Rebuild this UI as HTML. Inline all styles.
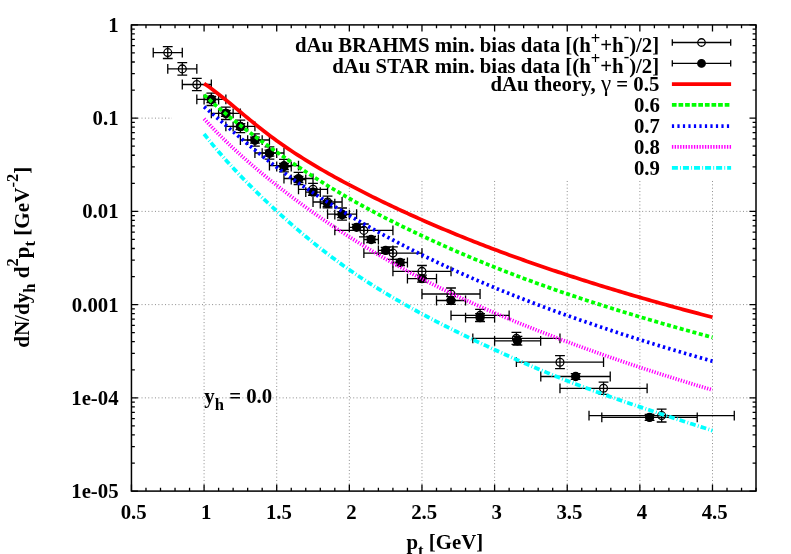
<!DOCTYPE html>
<html>
<head>
<meta charset="utf-8">
<title>dAu spectra</title>
<style>
html,body{margin:0;padding:0;background:#ffffff;}
body{width:791px;height:554px;overflow:hidden;font-family:"Liberation Serif",serif;}
svg{display:block;will-change:transform;}
</style>
</head>
<body>
<svg width="791" height="554" viewBox="0 0 791 554">
<rect x="0" y="0" width="791" height="554" fill="#ffffff"/>
<g stroke="#8c8c8c" stroke-width="1" stroke-dasharray="1 2.36" fill="none">
<path d="M204.08 491.1 V179.5"/>
<path d="M276.71 491.1 V179.5"/>
<path d="M349.34 491.1 V179.5"/>
<path d="M421.97 491.1 V179.5"/>
<path d="M494.6 491.1 V179.5"/>
<path d="M567.23 491.1 V179.5"/>
<path d="M639.86 491.1 V179.5"/>
<path d="M712.49 491.1 V179.5"/>
<path d="M131.45 118.14 H172"/>
<path d="M131.45 211.38 H756"/>
<path d="M131.45 304.62 H756"/>
<path d="M131.45 397.86 H756"/>
</g>
<path d="M131.45 491.1 v-6.5 M131.45 24.9 v6.5 M145.98 491.1 v-3.4 M145.98 24.9 v3.4 M160.5 491.1 v-3.4 M160.5 24.9 v3.4 M175.03 491.1 v-3.4 M175.03 24.9 v3.4 M189.55 491.1 v-3.4 M189.55 24.9 v3.4 M204.08 491.1 v-6.5 M204.08 24.9 v6.5 M218.61 491.1 v-3.4 M218.61 24.9 v3.4 M233.13 491.1 v-3.4 M233.13 24.9 v3.4 M247.66 491.1 v-3.4 M247.66 24.9 v3.4 M262.18 491.1 v-3.4 M262.18 24.9 v3.4 M276.71 491.1 v-6.5 M276.71 24.9 v6.5 M291.24 491.1 v-3.4 M291.24 24.9 v3.4 M305.76 491.1 v-3.4 M305.76 24.9 v3.4 M320.29 491.1 v-3.4 M320.29 24.9 v3.4 M334.81 491.1 v-3.4 M334.81 24.9 v3.4 M349.34 491.1 v-6.5 M349.34 24.9 v6.5 M363.87 491.1 v-3.4 M363.87 24.9 v3.4 M378.39 491.1 v-3.4 M378.39 24.9 v3.4 M392.92 491.1 v-3.4 M392.92 24.9 v3.4 M407.44 491.1 v-3.4 M407.44 24.9 v3.4 M421.97 491.1 v-6.5 M421.97 24.9 v6.5 M436.5 491.1 v-3.4 M436.5 24.9 v3.4 M451.02 491.1 v-3.4 M451.02 24.9 v3.4 M465.55 491.1 v-3.4 M465.55 24.9 v3.4 M480.07 491.1 v-3.4 M480.07 24.9 v3.4 M494.6 491.1 v-6.5 M494.6 24.9 v6.5 M509.13 491.1 v-3.4 M509.13 24.9 v3.4 M523.65 491.1 v-3.4 M523.65 24.9 v3.4 M538.18 491.1 v-3.4 M538.18 24.9 v3.4 M552.7 491.1 v-3.4 M552.7 24.9 v3.4 M567.23 491.1 v-6.5 M567.23 24.9 v6.5 M581.76 491.1 v-3.4 M581.76 24.9 v3.4 M596.28 491.1 v-3.4 M596.28 24.9 v3.4 M610.81 491.1 v-3.4 M610.81 24.9 v3.4 M625.33 491.1 v-3.4 M625.33 24.9 v3.4 M639.86 491.1 v-6.5 M639.86 24.9 v6.5 M654.39 491.1 v-3.4 M654.39 24.9 v3.4 M668.91 491.1 v-3.4 M668.91 24.9 v3.4 M683.44 491.1 v-3.4 M683.44 24.9 v3.4 M697.96 491.1 v-3.4 M697.96 24.9 v3.4 M712.49 491.1 v-6.5 M712.49 24.9 v6.5 M727.02 491.1 v-3.4 M727.02 24.9 v3.4 M741.54 491.1 v-3.4 M741.54 24.9 v3.4 M756.07 491.1 v-3.4 M756.07 24.9 v3.4 M131.45 24.9 h6.5 M756 24.9 h-6.5 M131.45 90.07 h3.4 M756 90.07 h-3.4 M131.45 73.65 h3.4 M756 73.65 h-3.4 M131.45 62 h3.4 M756 62 h-3.4 M131.45 52.97 h3.4 M756 52.97 h-3.4 M131.45 45.59 h3.4 M756 45.59 h-3.4 M131.45 39.34 h3.4 M756 39.34 h-3.4 M131.45 33.94 h3.4 M756 33.94 h-3.4 M131.45 29.17 h3.4 M756 29.17 h-3.4 M131.45 118.14 h6.5 M756 118.14 h-6.5 M131.45 183.31 h3.4 M756 183.31 h-3.4 M131.45 166.89 h3.4 M756 166.89 h-3.4 M131.45 155.24 h3.4 M756 155.24 h-3.4 M131.45 146.21 h3.4 M756 146.21 h-3.4 M131.45 138.83 h3.4 M756 138.83 h-3.4 M131.45 132.58 h3.4 M756 132.58 h-3.4 M131.45 127.18 h3.4 M756 127.18 h-3.4 M131.45 122.41 h3.4 M756 122.41 h-3.4 M131.45 211.38 h6.5 M756 211.38 h-6.5 M131.45 276.55 h3.4 M756 276.55 h-3.4 M131.45 260.13 h3.4 M756 260.13 h-3.4 M131.45 248.48 h3.4 M756 248.48 h-3.4 M131.45 239.45 h3.4 M756 239.45 h-3.4 M131.45 232.07 h3.4 M756 232.07 h-3.4 M131.45 225.82 h3.4 M756 225.82 h-3.4 M131.45 220.42 h3.4 M756 220.42 h-3.4 M131.45 215.65 h3.4 M756 215.65 h-3.4 M131.45 304.62 h6.5 M756 304.62 h-6.5 M131.45 369.79 h3.4 M756 369.79 h-3.4 M131.45 353.37 h3.4 M756 353.37 h-3.4 M131.45 341.72 h3.4 M756 341.72 h-3.4 M131.45 332.69 h3.4 M756 332.69 h-3.4 M131.45 325.31 h3.4 M756 325.31 h-3.4 M131.45 319.06 h3.4 M756 319.06 h-3.4 M131.45 313.66 h3.4 M756 313.66 h-3.4 M131.45 308.89 h3.4 M756 308.89 h-3.4 M131.45 397.86 h6.5 M756 397.86 h-6.5 M131.45 463.03 h3.4 M756 463.03 h-3.4 M131.45 446.61 h3.4 M756 446.61 h-3.4 M131.45 434.96 h3.4 M756 434.96 h-3.4 M131.45 425.93 h3.4 M756 425.93 h-3.4 M131.45 418.55 h3.4 M756 418.55 h-3.4 M131.45 412.3 h3.4 M756 412.3 h-3.4 M131.45 406.9 h3.4 M756 406.9 h-3.4 M131.45 402.13 h3.4 M756 402.13 h-3.4 M131.45 491.1 h6.5 M756 491.1 h-6.5" stroke="#000" stroke-width="1.3" fill="none"/>
<g stroke="#000" stroke-width="1.3" fill="none">
<path d="M153.24 52.6 H182.29 M153.24 47.7 v9.8 M182.29 47.7 v9.8 M167.76 46.7 V58.5 M162.86 46.7 h9.8 M162.86 58.5 h9.8"/>
<circle cx="167.76" cy="52.6" r="3.9"/>
<path d="M167.76 68.9 H196.82 M167.76 64 v9.8 M196.82 64 v9.8 M182.29 62.7 V75.1 M177.39 62.7 h9.8 M177.39 75.1 h9.8"/>
<circle cx="182.29" cy="68.9" r="3.9"/>
<path d="M182.29 84.5 H211.34 M182.29 79.6 v9.8 M211.34 79.6 v9.8 M196.82 78.4 V90.6 M191.92 78.4 h9.8 M191.92 90.6 h9.8"/>
<circle cx="196.82" cy="84.5" r="3.9"/>
<path d="M196.82 99.3 H225.87 M196.82 94.4 v9.8 M225.87 94.4 v9.8 M211.34 93.1 V105.5 M206.44 93.1 h9.8 M206.44 105.5 h9.8"/>
<circle cx="211.34" cy="99.3" r="3.9"/>
<path d="M211.34 113.3 H240.39 M211.34 108.4 v9.8 M240.39 108.4 v9.8 M225.87 107.1 V119.5 M220.97 107.1 h9.8 M220.97 119.5 h9.8"/>
<circle cx="225.87" cy="113.3" r="3.9"/>
<path d="M225.87 126.4 H254.92 M225.87 121.5 v9.8 M254.92 121.5 v9.8 M240.39 120.2 V132.6 M235.49 120.2 h9.8 M235.49 132.6 h9.8"/>
<circle cx="240.39" cy="126.4" r="3.9"/>
<path d="M240.39 140 H269.45 M240.39 135.1 v9.8 M269.45 135.1 v9.8 M254.92 133.8 V146.2 M250.02 133.8 h9.8 M250.02 146.2 h9.8"/>
<circle cx="254.92" cy="140" r="3.9"/>
<path d="M254.92 153 H283.97 M254.92 148.1 v9.8 M283.97 148.1 v9.8 M269.45 146.8 V159.2 M264.55 146.8 h9.8 M264.55 159.2 h9.8"/>
<circle cx="269.45" cy="153" r="3.9"/>
<path d="M269.45 165.6 H298.5 M269.45 160.7 v9.8 M298.5 160.7 v9.8 M283.97 159.4 V171.8 M279.07 159.4 h9.8 M279.07 171.8 h9.8"/>
<circle cx="283.97" cy="165.6" r="3.9"/>
<path d="M283.97 178.5 H313.02 M283.97 173.6 v9.8 M313.02 173.6 v9.8 M298.5 172.3 V184.7 M293.6 172.3 h9.8 M293.6 184.7 h9.8"/>
<circle cx="298.5" cy="178.5" r="3.9"/>
<path d="M298.5 189.3 H327.55 M298.5 184.4 v9.8 M327.55 184.4 v9.8 M313.02 183.3 V195.3 M308.12 183.3 h9.8 M308.12 195.3 h9.8"/>
<circle cx="313.02" cy="189.3" r="3.9"/>
<path d="M313.02 202 H342.08 M313.02 197.1 v9.8 M342.08 197.1 v9.8 M327.55 196.1 V207.9 M322.65 196.1 h9.8 M322.65 207.9 h9.8"/>
<circle cx="327.55" cy="202" r="3.9"/>
<path d="M327.55 214.1 H356.6 M327.55 209.2 v9.8 M356.6 209.2 v9.8 M342.08 208 V220.2 M337.18 208 h9.8 M337.18 220.2 h9.8"/>
<circle cx="342.08" cy="214.1" r="3.9"/>
<path d="M334.81 230.4 H392.92 M334.81 225.5 v9.8 M392.92 225.5 v9.8 M363.87 224 V236.8 M358.97 224 h9.8 M358.97 236.8 h9.8"/>
<circle cx="363.87" cy="230.4" r="3.9"/>
<path d="M363.87 253.1 H421.97 M363.87 248.2 v9.8 M421.97 248.2 v9.8 M392.92 246.9 V259.3 M388.02 246.9 h9.8 M388.02 259.3 h9.8"/>
<circle cx="392.92" cy="253.1" r="3.9"/>
<path d="M392.92 271.4 H451.02 M392.92 266.5 v9.8 M451.02 266.5 v9.8 M421.97 265.5 V277.3 M417.07 265.5 h9.8 M417.07 277.3 h9.8"/>
<circle cx="421.97" cy="271.4" r="3.9"/>
<path d="M421.97 294 H480.07 M421.97 289.1 v9.8 M480.07 289.1 v9.8 M451.02 288 V300 M446.12 288 h9.8 M446.12 300 h9.8"/>
<circle cx="451.02" cy="294" r="3.9"/>
<path d="M451.02 315.4 H509.13 M451.02 310.5 v9.8 M509.13 310.5 v9.8 M480.07 309.4 V321.4 M475.17 309.4 h9.8 M475.17 321.4 h9.8"/>
<circle cx="480.07" cy="315.4" r="3.9"/>
<path d="M472.81 338.4 H559.97 M472.81 333.5 v9.8 M559.97 333.5 v9.8 M516.39 332.4 V344.4 M511.49 332.4 h9.8 M511.49 344.4 h9.8"/>
<circle cx="516.39" cy="338.4" r="3.9"/>
<path d="M516.39 362.2 H603.54 M516.39 357.3 v9.8 M603.54 357.3 v9.8 M559.97 355.7 V368.7 M555.07 355.7 h9.8 M555.07 368.7 h9.8"/>
<circle cx="559.97" cy="362.2" r="3.9"/>
<path d="M559.97 388.3 H647.12 M559.97 383.4 v9.8 M647.12 383.4 v9.8 M603.54 382.2 V394.4 M598.64 382.2 h9.8 M598.64 394.4 h9.8"/>
<circle cx="603.54" cy="388.3" r="3.9"/>
<path d="M589.02 415.6 H734.28 M589.02 410.7 v9.8 M734.28 410.7 v9.8 M661.65 409.2 V422 M656.75 409.2 h9.8 M656.75 422 h9.8"/>
<circle cx="661.65" cy="415.6" r="3.9"/>
</g>
<g stroke="#000" stroke-width="1.3" fill="none">
<path d="M204.08 99.5 H218.61 M204.08 94.6 v9.8 M218.61 94.6 v9.8 M211.34 96.5 V102.5 M206.44 96.5 h9.8 M206.44 102.5 h9.8"/>
<circle cx="211.34" cy="99.5" r="4" fill="#000"/>
<path d="M218.61 113.4 H233.13 M218.61 108.5 v9.8 M233.13 108.5 v9.8 M225.87 110.4 V116.4 M220.97 110.4 h9.8 M220.97 116.4 h9.8"/>
<circle cx="225.87" cy="113.4" r="4" fill="#000"/>
<path d="M233.13 126.6 H247.66 M233.13 121.7 v9.8 M247.66 121.7 v9.8 M240.39 123.6 V129.6 M235.49 123.6 h9.8 M235.49 129.6 h9.8"/>
<circle cx="240.39" cy="126.6" r="4" fill="#000"/>
<path d="M247.66 140.1 H262.18 M247.66 135.2 v9.8 M262.18 135.2 v9.8 M254.92 137.1 V143.1 M250.02 137.1 h9.8 M250.02 143.1 h9.8"/>
<circle cx="254.92" cy="140.1" r="4" fill="#000"/>
<path d="M262.18 153.2 H276.71 M262.18 148.3 v9.8 M276.71 148.3 v9.8 M269.45 150.2 V156.2 M264.55 150.2 h9.8 M264.55 156.2 h9.8"/>
<circle cx="269.45" cy="153.2" r="4" fill="#000"/>
<path d="M276.71 166.5 H291.24 M276.71 161.6 v9.8 M291.24 161.6 v9.8 M283.97 163.5 V169.5 M279.07 163.5 h9.8 M279.07 169.5 h9.8"/>
<circle cx="283.97" cy="166.5" r="4" fill="#000"/>
<path d="M291.24 179.5 H305.76 M291.24 174.6 v9.8 M305.76 174.6 v9.8 M298.5 176.5 V182.5 M293.6 176.5 h9.8 M293.6 182.5 h9.8"/>
<circle cx="298.5" cy="179.5" r="4" fill="#000"/>
<path d="M305.76 192.1 H320.29 M305.76 187.2 v9.8 M320.29 187.2 v9.8 M313.02 189.1 V195.1 M308.12 189.1 h9.8 M308.12 195.1 h9.8"/>
<circle cx="313.02" cy="192.1" r="4" fill="#000"/>
<path d="M320.29 203.6 H334.81 M320.29 198.7 v9.8 M334.81 198.7 v9.8 M327.55 200.6 V206.6 M322.65 200.6 h9.8 M322.65 206.6 h9.8"/>
<circle cx="327.55" cy="203.6" r="4" fill="#000"/>
<path d="M334.81 214.6 H349.34 M334.81 209.7 v9.8 M349.34 209.7 v9.8 M342.08 211.6 V217.6 M337.18 211.6 h9.8 M337.18 217.6 h9.8"/>
<circle cx="342.08" cy="214.6" r="4" fill="#000"/>
<path d="M349.34 227.3 H363.87 M349.34 222.4 v9.8 M363.87 222.4 v9.8 M356.6 224.3 V230.3 M351.7 224.3 h9.8 M351.7 230.3 h9.8"/>
<circle cx="356.6" cy="227.3" r="4" fill="#000"/>
<path d="M363.87 239.5 H378.39 M363.87 234.6 v9.8 M378.39 234.6 v9.8 M371.13 236.5 V242.5 M366.23 236.5 h9.8 M366.23 242.5 h9.8"/>
<circle cx="371.13" cy="239.5" r="4" fill="#000"/>
<path d="M378.39 250.4 H392.92 M378.39 245.5 v9.8 M392.92 245.5 v9.8 M385.65 247.4 V253.4 M380.75 247.4 h9.8 M380.75 253.4 h9.8"/>
<circle cx="385.65" cy="250.4" r="4" fill="#000"/>
<path d="M392.92 262.5 H407.44 M392.92 257.6 v9.8 M407.44 257.6 v9.8 M400.18 259.5 V265.5 M395.28 259.5 h9.8 M395.28 265.5 h9.8"/>
<circle cx="400.18" cy="262.5" r="4" fill="#000"/>
<path d="M407.44 278.7 H436.5 M407.44 273.8 v9.8 M436.5 273.8 v9.8 M421.97 275.2 V282.2 M417.07 275.2 h9.8 M417.07 282.2 h9.8"/>
<circle cx="421.97" cy="278.7" r="4" fill="#000"/>
<path d="M436.5 300.5 H465.55 M436.5 295.6 v9.8 M465.55 295.6 v9.8 M451.02 296.7 V304.3 M446.12 296.7 h9.8 M446.12 304.3 h9.8"/>
<circle cx="451.02" cy="300.5" r="4" fill="#000"/>
<path d="M465.55 317.7 H494.6 M465.55 312.8 v9.8 M494.6 312.8 v9.8 M480.07 313.7 V321.7 M475.17 313.7 h9.8 M475.17 321.7 h9.8"/>
<circle cx="480.07" cy="317.7" r="4" fill="#000"/>
<path d="M494.6 340.8 H540.65 M494.6 335.9 v9.8 M540.65 335.9 v9.8 M517.41 336.4 V345.2 M512.51 336.4 h9.8 M512.51 345.2 h9.8"/>
<circle cx="517.41" cy="340.8" r="4" fill="#000"/>
<path d="M540.79 376.5 H610.23 M540.79 371.6 v9.8 M610.23 371.6 v9.8 M575.66 373.6 V379.4 M570.76 373.6 h9.8 M570.76 379.4 h9.8"/>
<circle cx="575.66" cy="376.5" r="4" fill="#000"/>
<path d="M601.8 417.4 H697.24 M601.8 412.5 v9.8 M697.24 412.5 v9.8 M649.59 414.5 V420.3 M644.69 414.5 h9.8 M644.69 420.3 h9.8"/>
<circle cx="649.59" cy="417.4" r="4" fill="#000"/>
</g>
<polyline points="204.08,83.6 206.99,85.55 209.89,87.59 212.8,89.71 215.7,91.91 218.61,94.16 221.51,96.46 224.42,98.79 227.32,101.16 230.23,103.55 233.13,105.96 236.04,108.37 238.94,110.79 241.85,113.21 244.75,115.62 247.66,118.02 250.56,120.4 253.47,122.77 256.37,125.11 259.28,127.43 262.18,129.72 265.09,131.99 267.99,134.22 270.9,136.41 273.8,138.58 276.71,140.7 279.62,142.79 282.52,144.84 285.43,146.85 288.33,148.83 291.24,150.78 294.14,152.7 297.05,154.59 299.95,156.45 302.86,158.29 305.76,160.1 308.67,161.89 311.57,163.65 314.48,165.4 317.38,167.12 320.29,168.82 323.19,170.5 326.1,172.16 329,173.81 331.91,175.44 334.81,177.05 337.72,178.65 340.62,180.23 343.53,181.8 346.43,183.36 349.34,184.9 352.25,186.43 355.15,187.95 358.06,189.45 360.96,190.95 363.87,192.43 366.77,193.9 369.68,195.36 372.58,196.81 375.49,198.24 378.39,199.67 381.3,201.09 384.2,202.49 387.11,203.89 390.01,205.28 392.92,206.65 395.82,208.02 398.73,209.37 401.63,210.72 404.54,212.06 407.44,213.39 410.35,214.71 413.25,216.02 416.16,217.32 419.06,218.61 421.97,219.9 424.88,221.18 427.78,222.45 430.69,223.71 433.59,224.96 436.5,226.2 439.4,227.44 442.31,228.67 445.21,229.89 448.12,231.1 451.02,232.3 453.93,233.5 456.83,234.69 459.74,235.87 462.64,237.05 465.55,238.21 468.45,239.37 471.36,240.53 474.26,241.67 477.17,242.81 480.07,243.94 482.98,245.07 485.88,246.19 488.79,247.3 491.69,248.4 494.6,249.5 497.51,250.59 500.41,251.68 503.32,252.75 506.22,253.83 509.13,254.89 512.03,255.95 514.94,257 517.84,258.05 520.75,259.09 523.65,260.13 526.56,261.16 529.46,262.18 532.37,263.2 535.27,264.21 538.18,265.22 541.08,266.22 543.99,267.22 546.89,268.21 549.8,269.19 552.7,270.17 555.61,271.15 558.51,272.12 561.42,273.08 564.32,274.04 567.23,275 570.14,275.95 573.04,276.9 575.95,277.84 578.85,278.77 581.76,279.71 584.66,280.63 587.57,281.56 590.47,282.47 593.38,283.39 596.28,284.3 599.19,285.2 602.09,286.1 605,287 607.9,287.89 610.81,288.77 613.71,289.66 616.62,290.53 619.52,291.41 622.43,292.28 625.33,293.14 628.24,294 631.14,294.86 634.05,295.71 636.95,296.56 639.86,297.4 642.77,298.24 645.67,299.07 648.58,299.91 651.48,300.73 654.39,301.56 657.29,302.37 660.2,303.19 663.1,304 666.01,304.81 668.91,305.61 671.82,306.41 674.72,307.21 677.63,308 680.53,308.78 683.44,309.57 686.34,310.35 689.25,311.12 692.15,311.9 695.06,312.66 697.96,313.43 700.87,314.19 703.77,314.95 706.68,315.7 709.58,316.45 712.49,317.2" fill="none" stroke="#ff0000" stroke-width="3.75"/>
<polyline points="204.08,94.9 206.99,97.58 209.89,100.2 212.8,102.78 215.7,105.31 218.61,107.8 221.51,110.25 224.42,112.66 227.32,115.05 230.23,117.4 233.13,119.72 236.04,122.01 238.94,124.28 241.85,126.52 244.75,128.74 247.66,130.94 250.56,133.12 253.47,135.28 256.37,137.42 259.28,139.54 262.18,141.65 265.09,143.75 267.99,145.83 270.9,147.9 273.8,149.96 276.71,152 279.62,154.03 282.52,156.06 285.43,158.07 288.33,160.06 291.24,162.05 294.14,164.02 297.05,165.97 299.95,167.91 302.86,169.84 305.76,171.75 308.67,173.65 311.57,175.53 314.48,177.4 317.38,179.24 320.29,181.08 323.19,182.89 326.1,184.69 329,186.48 331.91,188.25 334.81,190 337.72,191.73 340.62,193.45 343.53,195.15 346.43,196.83 349.34,198.5 352.25,200.15 355.15,201.78 358.06,203.4 360.96,205.01 363.87,206.59 366.77,208.17 369.68,209.73 372.58,211.27 375.49,212.81 378.39,214.33 381.3,215.84 384.2,217.33 387.11,218.81 390.01,220.29 392.92,221.75 395.82,223.2 398.73,224.64 401.63,226.07 404.54,227.49 407.44,228.89 410.35,230.29 413.25,231.68 416.16,233.06 419.06,234.44 421.97,235.8 424.88,237.15 427.78,238.5 430.69,239.84 433.59,241.17 436.5,242.49 439.4,243.8 442.31,245.11 445.21,246.4 448.12,247.69 451.02,248.97 453.93,250.24 456.83,251.51 459.74,252.76 462.64,254.01 465.55,255.25 468.45,256.48 471.36,257.7 474.26,258.92 477.17,260.12 480.07,261.32 482.98,262.51 485.88,263.7 488.79,264.87 491.69,266.04 494.6,267.2 497.51,268.35 500.41,269.5 503.32,270.64 506.22,271.77 509.13,272.89 512.03,274 514.94,275.11 517.84,276.21 520.75,277.31 523.65,278.4 526.56,279.48 529.46,280.55 532.37,281.61 535.27,282.67 538.18,283.73 541.08,284.77 543.99,285.81 546.89,286.85 549.8,287.87 552.7,288.89 555.61,289.91 558.51,290.91 561.42,291.92 564.32,292.91 567.23,293.9 570.14,294.88 573.04,295.86 575.95,296.83 578.85,297.8 581.76,298.76 584.66,299.71 587.57,300.66 590.47,301.6 593.38,302.54 596.28,303.47 599.19,304.4 602.09,305.32 605,306.24 607.9,307.15 610.81,308.06 613.71,308.96 616.62,309.86 619.52,310.76 622.43,311.65 625.33,312.53 628.24,313.42 631.14,314.29 634.05,315.17 636.95,316.03 639.86,316.9 642.77,317.76 645.67,318.62 648.58,319.47 651.48,320.32 654.39,321.17 657.29,322.01 660.2,322.85 663.1,323.68 666.01,324.52 668.91,325.34 671.82,326.17 674.72,326.99 677.63,327.81 680.53,328.63 683.44,329.44 686.34,330.25 689.25,331.05 692.15,331.86 695.06,332.66 697.96,333.46 700.87,334.25 703.77,335.04 706.68,335.83 709.58,336.62 712.49,337.4" fill="none" stroke="#00ff00" stroke-width="3.75" stroke-dasharray="4.0 2.6"/>
<polyline points="204.08,106.8 206.99,109.22 209.89,111.67 212.8,114.14 215.7,116.63 218.61,119.13 221.51,121.64 224.42,124.15 227.32,126.67 230.23,129.18 233.13,131.68 236.04,134.18 238.94,136.66 241.85,139.13 244.75,141.59 247.66,144.03 250.56,146.45 253.47,148.85 256.37,151.23 259.28,153.58 262.18,155.92 265.09,158.23 267.99,160.51 270.9,162.77 273.8,165 276.71,167.2 279.62,169.38 282.52,171.53 285.43,173.65 288.33,175.75 291.24,177.82 294.14,179.88 297.05,181.91 299.95,183.92 302.86,185.9 305.76,187.87 308.67,189.82 311.57,191.75 314.48,193.67 317.38,195.56 320.29,197.44 323.19,199.3 326.1,201.15 329,202.98 331.91,204.79 334.81,206.6 337.72,208.38 340.62,210.16 343.53,211.92 346.43,213.66 349.34,215.4 352.25,217.12 355.15,218.83 358.06,220.53 360.96,222.22 363.87,223.89 366.77,225.56 369.68,227.21 372.58,228.85 375.49,230.47 378.39,232.09 381.3,233.69 384.2,235.28 387.11,236.86 390.01,238.42 392.92,239.98 395.82,241.52 398.73,243.06 401.63,244.58 404.54,246.08 407.44,247.58 410.35,249.07 413.25,250.54 416.16,252.01 419.06,253.46 421.97,254.9 424.88,256.33 427.78,257.75 430.69,259.16 433.59,260.56 436.5,261.94 439.4,263.32 442.31,264.69 445.21,266.04 448.12,267.39 451.02,268.73 453.93,270.06 456.83,271.38 459.74,272.68 462.64,273.98 465.55,275.27 468.45,276.56 471.36,277.83 474.26,279.09 477.17,280.35 480.07,281.59 482.98,282.83 485.88,284.06 488.79,285.28 491.69,286.5 494.6,287.7 497.51,288.9 500.41,290.09 503.32,291.27 506.22,292.44 509.13,293.61 512.03,294.77 514.94,295.92 517.84,297.06 520.75,298.2 523.65,299.33 526.56,300.45 529.46,301.57 532.37,302.68 535.27,303.78 538.18,304.88 541.08,305.97 543.99,307.05 546.89,308.13 549.8,309.2 552.7,310.26 555.61,311.32 558.51,312.38 561.42,313.42 564.32,314.46 567.23,315.5 570.14,316.53 573.04,317.55 575.95,318.57 578.85,319.59 581.76,320.59 584.66,321.6 587.57,322.59 590.47,323.58 593.38,324.57 596.28,325.55 599.19,326.53 602.09,327.5 605,328.47 607.9,329.43 610.81,330.39 613.71,331.34 616.62,332.29 619.52,333.23 622.43,334.17 625.33,335.1 628.24,336.03 631.14,336.95 634.05,337.87 636.95,338.79 639.86,339.7 642.77,340.61 645.67,341.51 648.58,342.41 651.48,343.3 654.39,344.19 657.29,345.08 660.2,345.96 663.1,346.84 666.01,347.72 668.91,348.59 671.82,349.45 674.72,350.32 677.63,351.17 680.53,352.03 683.44,352.88 686.34,353.73 689.25,354.57 692.15,355.41 695.06,356.25 697.96,357.08 700.87,357.91 703.77,358.74 706.68,359.56 709.58,360.38 712.49,361.2" fill="none" stroke="#0000ff" stroke-width="3.75" stroke-dasharray="2.4 3.1"/>
<polyline points="204.08,118.7 206.99,121.89 209.89,125.02 212.8,128.09 215.7,131.1 218.61,134.06 221.51,136.97 224.42,139.83 227.32,142.64 230.23,145.41 233.13,148.14 236.04,150.83 238.94,153.49 241.85,156.11 244.75,158.69 247.66,161.24 250.56,163.77 253.47,166.26 256.37,168.72 259.28,171.16 262.18,173.58 265.09,175.97 267.99,178.33 270.9,180.68 273.8,183 276.71,185.3 279.62,187.58 282.52,189.84 285.43,192.09 288.33,194.31 291.24,196.51 294.14,198.7 297.05,200.87 299.95,203.01 302.86,205.14 305.76,207.26 308.67,209.35 311.57,211.43 314.48,213.48 317.38,215.53 320.29,217.55 323.19,219.56 326.1,221.55 329,223.52 331.91,225.48 334.81,227.42 337.72,229.35 340.62,231.26 343.53,233.16 346.43,235.04 349.34,236.9 352.25,238.75 355.15,240.58 358.06,242.4 360.96,244.21 363.87,246 366.77,247.77 369.68,249.53 372.58,251.28 375.49,253.01 378.39,254.73 381.3,256.43 384.2,258.12 387.11,259.79 390.01,261.45 392.92,263.1 395.82,264.73 398.73,266.35 401.63,267.95 404.54,269.54 407.44,271.12 410.35,272.68 413.25,274.23 416.16,275.77 419.06,277.29 421.97,278.8 424.88,280.3 427.78,281.78 430.69,283.25 433.59,284.71 436.5,286.16 439.4,287.6 442.31,289.02 445.21,290.43 448.12,291.84 451.02,293.23 453.93,294.61 456.83,295.98 459.74,297.33 462.64,298.68 465.55,300.02 468.45,301.35 471.36,302.67 474.26,303.98 477.17,305.28 480.07,306.57 482.98,307.86 485.88,309.13 488.79,310.4 491.69,311.65 494.6,312.9 497.51,314.14 500.41,315.37 503.32,316.6 506.22,317.81 509.13,319.02 512.03,320.22 514.94,321.41 517.84,322.6 520.75,323.78 523.65,324.95 526.56,326.12 529.46,327.28 532.37,328.43 535.27,329.58 538.18,330.72 541.08,331.85 543.99,332.98 546.89,334.1 549.8,335.22 552.7,336.33 555.61,337.43 558.51,338.53 561.42,339.63 564.32,340.72 567.23,341.8 570.14,342.88 573.04,343.95 575.95,345.02 578.85,346.08 581.76,347.14 584.66,348.2 587.57,349.24 590.47,350.29 593.38,351.33 596.28,352.36 599.19,353.39 602.09,354.41 605,355.43 607.9,356.45 610.81,357.46 613.71,358.46 616.62,359.46 619.52,360.46 622.43,361.45 625.33,362.44 628.24,363.42 631.14,364.4 634.05,365.37 636.95,366.34 639.86,367.3 642.77,368.26 645.67,369.21 648.58,370.16 651.48,371.11 654.39,372.05 657.29,372.99 660.2,373.92 663.1,374.85 666.01,375.77 668.91,376.69 671.82,377.61 674.72,378.52 677.63,379.43 680.53,380.33 683.44,381.23 686.34,382.13 689.25,383.02 692.15,383.9 695.06,384.79 697.96,385.67 700.87,386.54 703.77,387.41 706.68,388.28 709.58,389.14 712.49,390" fill="none" stroke="#ff00ff" stroke-width="3.75" stroke-dasharray="1.25 1.5"/>
<polyline points="204.08,134 206.99,137.68 209.89,141.28 212.8,144.82 215.7,148.3 218.61,151.71 221.51,155.07 224.42,158.37 227.32,161.63 230.23,164.83 233.13,167.99 236.04,171.1 238.94,174.18 241.85,177.21 244.75,180.21 247.66,183.17 250.56,186.09 253.47,188.99 256.37,191.85 259.28,194.68 262.18,197.48 265.09,200.26 267.99,203 270.9,205.73 273.8,208.43 276.71,211.1 279.62,213.75 282.52,216.38 285.43,218.99 288.33,221.57 291.24,224.12 294.14,226.65 297.05,229.16 299.95,231.64 302.86,234.1 305.76,236.52 308.67,238.93 311.57,241.3 314.48,243.65 317.38,245.98 320.29,248.28 323.19,250.55 326.1,252.79 329,255.01 331.91,257.2 334.81,259.37 337.72,261.51 340.62,263.62 343.53,265.7 346.43,267.77 349.34,269.8 352.25,271.81 355.15,273.79 358.06,275.75 360.96,277.69 363.87,279.6 366.77,281.49 369.68,283.36 372.58,285.21 375.49,287.04 378.39,288.85 381.3,290.63 384.2,292.4 387.11,294.15 390.01,295.89 392.92,297.6 395.82,299.3 398.73,300.99 401.63,302.65 404.54,304.3 407.44,305.94 410.35,307.56 413.25,309.16 416.16,310.76 419.06,312.34 421.97,313.9 424.88,315.45 427.78,316.99 430.69,318.52 433.59,320.03 436.5,321.54 439.4,323.03 442.31,324.51 445.21,325.98 448.12,327.44 451.02,328.89 453.93,330.34 456.83,331.77 459.74,333.19 462.64,334.61 465.55,336.02 468.45,337.42 471.36,338.81 474.26,340.19 477.17,341.57 480.07,342.94 482.98,344.31 485.88,345.66 488.79,347.02 491.69,348.36 494.6,349.7 497.51,351.03 500.41,352.36 503.32,353.68 506.22,355 509.13,356.31 512.03,357.61 514.94,358.9 517.84,360.19 520.75,361.47 523.65,362.74 526.56,364.01 529.46,365.26 532.37,366.51 535.27,367.75 538.18,368.98 541.08,370.2 543.99,371.42 546.89,372.62 549.8,373.82 552.7,375.01 555.61,376.18 558.51,377.35 561.42,378.51 564.32,379.66 567.23,380.8 570.14,381.93 573.04,383.05 575.95,384.16 578.85,385.27 581.76,386.36 584.66,387.45 587.57,388.53 590.47,389.6 593.38,390.66 596.28,391.72 599.19,392.77 602.09,393.81 605,394.85 607.9,395.88 610.81,396.91 613.71,397.93 616.62,398.95 619.52,399.96 622.43,400.96 625.33,401.96 628.24,402.96 631.14,403.95 634.05,404.94 636.95,405.92 639.86,406.9 642.77,407.88 645.67,408.85 648.58,409.82 651.48,410.78 654.39,411.75 657.29,412.71 660.2,413.67 663.1,414.62 666.01,415.58 668.91,416.53 671.82,417.47 674.72,418.42 677.63,419.37 680.53,420.31 683.44,421.25 686.34,422.19 689.25,423.13 692.15,424.07 695.06,425 697.96,425.94 700.87,426.87 703.77,427.81 706.68,428.74 709.58,429.67 712.49,430.6" fill="none" stroke="#00ffff" stroke-width="3.75" stroke-dasharray="5.8 2.3 0.9 2.05"/>
<rect x="131.45" y="24.9" width="624.55" height="466.2" fill="none" stroke="#000" stroke-width="1.5"/>
<g stroke="#000" stroke-width="1.3" fill="none">
<path d="M672.3 42.5 H730.7 M672.3 39.3 v6.4 M730.7 39.3 v6.4"/>
<circle cx="701.5" cy="42.5" r="3.75" fill="none"/>
<path d="M672.3 63.4 H730.7 M672.3 60.2 v6.4 M730.7 60.2 v6.4"/>
<circle cx="701.5" cy="63.4" r="3.75" fill="#000"/>
</g>
<path d="M671.9 84.1 H731.1" fill="none" stroke="#ff0000" stroke-width="3.75"/>
<path d="M671.9 104.9 H731.1" fill="none" stroke="#00ff00" stroke-width="3.75" stroke-dasharray="4.7 1.9"/>
<path d="M671.9 126 H731.1" fill="none" stroke="#0000ff" stroke-width="3.75" stroke-dasharray="2.2 3.3"/>
<path d="M671.9 146.8 H731.1" fill="none" stroke="#ff00ff" stroke-width="3.75" stroke-dasharray="1.4 1.35"/>
<path d="M671.9 167.8 H731.1" fill="none" stroke="#00ffff" stroke-width="3.75" stroke-dasharray="6 2.2 0.9 1.95"/>
<g font-family="'Liberation Serif', serif" font-weight="bold" font-size="20.8" fill="#000">
<text x="118.6" y="31.9" text-anchor="end">1</text>
<text x="118.6" y="125.14" text-anchor="end">0.1</text>
<text x="118.6" y="218.38" text-anchor="end">0.01</text>
<text x="118.6" y="311.62" text-anchor="end">0.001</text>
<text x="118.6" y="404.86" text-anchor="end">1e-04</text>
<text x="118.6" y="498.1" text-anchor="end">1e-05</text>
<text x="133.65" y="519.2" text-anchor="middle">0.5</text>
<text x="206.28" y="519.2" text-anchor="middle">1</text>
<text x="278.91" y="519.2" text-anchor="middle">1.5</text>
<text x="351.54" y="519.2" text-anchor="middle">2</text>
<text x="424.17" y="519.2" text-anchor="middle">2.5</text>
<text x="496.8" y="519.2" text-anchor="middle">3</text>
<text x="569.43" y="519.2" text-anchor="middle">3.5</text>
<text x="642.06" y="519.2" text-anchor="middle">4</text>
<text x="714.69" y="519.2" text-anchor="middle">4.5</text>
<text x="659.2" y="52.0" text-anchor="end">dAu BRAHMS min. bias data [(h<tspan font-size="16.6" dy="-8.2">+</tspan><tspan dy="8.2">+h</tspan><tspan font-size="16.6" dy="-10.4">-</tspan><tspan dy="10.4">)/2]</tspan></text>
<text x="659.2" y="72.5" text-anchor="end">dAu STAR min. bias data [(h<tspan font-size="16.6" dy="-8.2">+</tspan><tspan dy="8.2">+h</tspan><tspan font-size="16.6" dy="-10.4">-</tspan><tspan dy="10.4">)/2]</tspan></text>
<text x="659.3" y="91.4" text-anchor="end">dAu theory, <tspan font-weight="normal" font-size="23">γ</tspan> = 0.5</text>
<text x="659.9" y="111.6" text-anchor="end">0.6</text>
<text x="659.9" y="132.7" text-anchor="end">0.7</text>
<text x="659.9" y="153.5" text-anchor="end">0.8</text>
<text x="659.9" y="174.5" text-anchor="end">0.9</text>
<text x="204.3" y="403.2">y<tspan font-size="16.6" dy="6.4">h</tspan><tspan dy="-6.4"> = 0.0</tspan></text>
<text x="444.8" y="549.2" text-anchor="middle">p<tspan font-size="16.6" dy="6.4">t</tspan><tspan dy="-6.4"> [GeV]</tspan></text>
<text transform="translate(28.5 257.3) rotate(-90)" font-size="21.1" text-anchor="middle">dN/dy<tspan font-size="16.6" dy="6.4">h</tspan><tspan dy="-6.4"> d</tspan><tspan font-size="16.6" dy="-11">2</tspan><tspan dy="11">p</tspan><tspan font-size="16.6" dy="6.4">t</tspan><tspan dy="-6.4"> [GeV</tspan><tspan font-size="16.6" dy="-11">-2</tspan><tspan dy="11">]</tspan></text>
</g>
</svg>
</body>
</html>
